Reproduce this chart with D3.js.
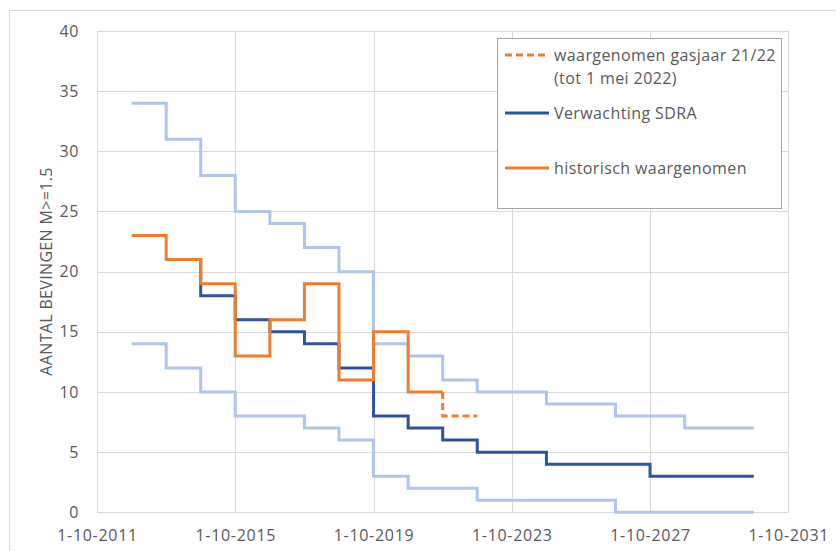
<!DOCTYPE html>
<html>
<head>
<meta charset="utf-8">
<script src="https://cdn.jsdelivr.net/npm/d3@7"></script>
<style>
  html, body { margin: 0; padding: 0; background: #fff; }
  svg { display: block; }
  text { font-family: "Open Sans", "Noto Sans", sans-serif; fill: #595959; }
</style>
</head>
<body>
<svg id="chart" width="836" height="551"></svg>
<script>
// ---- data (start of each gas year, 1 October) ----
const bandYears = [2012,2013,2014,2015,2016,2017,2018,2019,2020,2021,2022,2023,2024,2025,2026,2027,2028,2029];
const bandEnd = 2030;
const upperBand = [34,31,28,25,24,22,20,14,13,11,10,10,9,9,8,8,7,7];
const lowerBand = [14,12,10,8,8,7,6,3,2,2,1,1,1,1,0,0,0,0];

const sdraYears = [2013,2014,2015,2016,2017,2018,2019,2020,2021,2022,2023,2024,2025,2026,2027,2028,2029];
const sdraEnd = 2030;
const sdraValues = [21,18,16,15,14,12,8,7,6,5,5,4,4,4,3,3,3];

const histYears = [2012,2013,2014,2015,2016,2017,2018,2019,2020];
const histEnd = 2021;
const histValues = [23,21,19,13,16,19,11,15,10];

const obsYears = [2021];
const obsEnd = 2022;
const obsValues = [8];

const xTickYears = [2011,2015,2019,2023,2027,2031];
const yTicks = [0,5,10,15,20,25,30,35,40];

const legendItems = [
  {lines: ["waargenomen gasjaar 21/22", "(tot 1 mei 2022)"], color: "#ED7D31", dash: "7,4"},
  {lines: ["Verwachting SDRA"], color: "#2F5597", dash: null},
  {lines: ["historisch waargenomen"], color: "#ED7D31", dash: null}
];

// ---- layout ----
const svg = d3.select("#chart");
const gasDate = y => new Date(y, 9, 1);
const x = d3.scaleTime().domain([gasDate(2011), gasDate(2031)]).range([97, 788.3]);
const y = d3.scaleLinear().domain([0, 40]).range([512.3, 31]);

// outer chart border (cropped at right/bottom)
svg.append("rect").attr("x", 9.5).attr("y", 10.5).attr("width", 900).attr("height", 600)
  .attr("fill", "none").attr("stroke", "#d9d9d9").attr("stroke-width", 1);

// gridlines
const grid = svg.append("g");
grid.selectAll("line.h").data(yTicks).join("line")
  .attr("x1", x.range()[0]).attr("x2", x.range()[1])
  .attr("y1", d => Math.round(y(d)) + 0.5).attr("y2", d => Math.round(y(d)) + 0.5)
  .attr("stroke", "#d9d9d9").attr("stroke-width", 1);
grid.selectAll("line.v").data(xTickYears).join("line")
  .attr("x1", d => Math.round(x(gasDate(d))) + 0.5).attr("x2", d => Math.round(x(gasDate(d))) + 0.5)
  .attr("y1", y.range()[1]).attr("y2", y.range()[0])
  .attr("stroke", "#d9d9d9").attr("stroke-width", 1);

// axes (labels only)
const fmt = d3.timeFormat("%-d-%-m-%Y");
const yAxis = d3.axisLeft(y).tickValues(yTicks).tickSize(0).tickPadding(18);
const gy = svg.append("g").attr("transform", `translate(${x.range()[0]},0)`).call(yAxis);
gy.select(".domain").remove();
gy.selectAll("text").style("font-size", "16px").style("letter-spacing", "0.6px").attr("fill", "#595959")
  .style("font-family", "'Open Sans', sans-serif");

const xAxis = d3.axisBottom(x).tickValues(xTickYears.map(gasDate)).tickFormat(fmt).tickSize(0).tickPadding(17);
const gx = svg.append("g").attr("transform", `translate(0,${y.range()[0]})`).call(xAxis);
gx.select(".domain").remove();
gx.selectAll("text").style("font-size", "16px").style("letter-spacing", "0.7px").attr("fill", "#595959")
  .style("font-family", "'Open Sans', sans-serif");

// y title
svg.append("text")
  .attr("transform", `translate(52,${(y.range()[0] + y.range()[1]) / 2}) rotate(-90)`)
  .attr("text-anchor", "middle").style("font-size", "16px")
  .attr("textLength", 208).attr("lengthAdjust", "spacing")
  .text("AANTAL BEVINGEN M>=1.5");

// ---- step series ----
const line = d3.line().x(d => x(d[0])).y(d => y(d[1])).curve(d3.curveStepAfter);
function stepPoints(years, values, endYear) {
  const pts = years.map((yr, i) => [gasDate(yr), values[i]]);
  pts.push([gasDate(endYear), values[values.length - 1]]);
  return pts;
}
const plot = svg.append("g").attr("fill", "none").attr("stroke-linejoin", "miter");

plot.append("path").attr("d", line(stepPoints(bandYears, upperBand, bandEnd)))
  .attr("stroke", "#AFC5E9").attr("stroke-width", 3);
plot.append("path").attr("d", line(stepPoints(bandYears, lowerBand, bandEnd)))
  .attr("stroke", "#AFC5E9").attr("stroke-width", 3);
plot.append("path").attr("d", line(stepPoints(sdraYears, sdraValues, sdraEnd)))
  .attr("stroke", "#2F5597").attr("stroke-width", 3);
plot.append("path").attr("d", line(stepPoints(histYears, histValues, histEnd)))
  .attr("stroke", "#ED7D31").attr("stroke-width", 3);
// observed 21/22 continues from the last historic value
const obsPts = [[gasDate(obsYears[0]), histValues[histValues.length - 1]]]
  .concat(stepPoints(obsYears, obsValues, obsEnd));
plot.append("path").attr("d", line(obsPts))
  .attr("stroke", "#ED7D31").attr("stroke-width", 3).attr("stroke-dasharray", "7,4");

// ---- legend ----
const lg = svg.append("g");
lg.append("rect").attr("x", 497.5).attr("y", 38.5).attr("width", 284).attr("height", 170)
  .attr("fill", "#fff").attr("stroke", "#a6a6a6").attr("stroke-width", 1);
const rowY = [55, 113, 168];
legendItems.forEach((it, i) => {
  lg.append("line").attr("x1", 505).attr("x2", 549).attr("y1", rowY[i]).attr("y2", rowY[i])
    .attr("stroke", it.color).attr("stroke-width", 3)
    .attr("stroke-dasharray", it.dash);
  it.lines.forEach((t, j) => {
    lg.append("text").attr("x", 554).attr("y", rowY[i] + 6 + j * 23)
      .style("font-size", "16px").style("letter-spacing", "0.4px").text(t);
  });
});
</script>
</body>
</html>
